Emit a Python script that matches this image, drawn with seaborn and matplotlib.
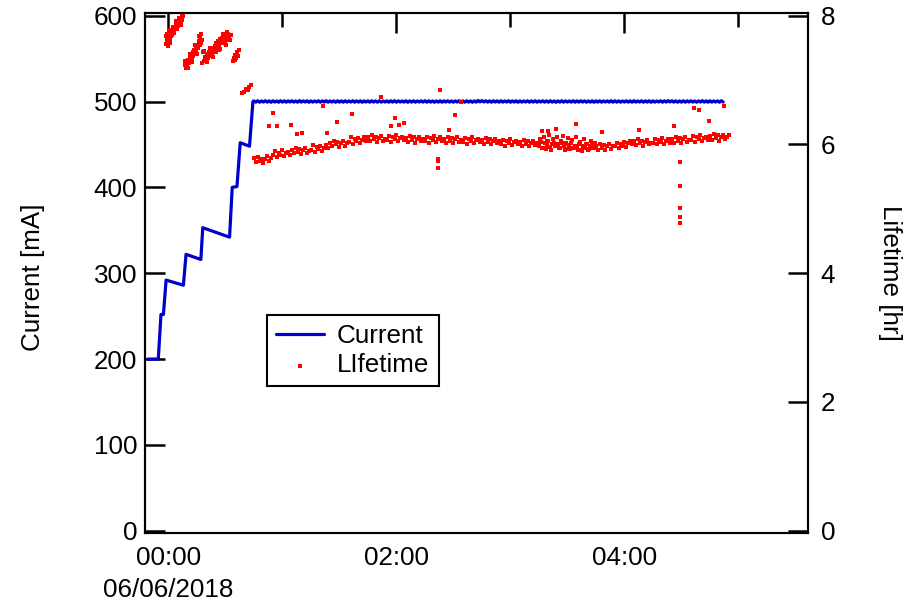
import numpy as np
import pandas as pd
import matplotlib
matplotlib.use("Agg")
import matplotlib.pyplot as plt
from matplotlib.ticker import FixedLocator, FixedFormatter
import seaborn as sns

# ---------------------------------------------------------------------------
# Beam current: injection ramp (minutes after 00:00 on 06/06/2018, mA)
ramp_minutes = [-10.7, -5.3, -3.9, -2.6, -1.2, 7.9, 9.3, 17.1, 18.1,
                32.2, 33.6, 36.1, 37.8, 42.7, 44.5]
ramp_current = [200, 200, 252, 252, 292, 286, 322, 316, 353,
                342, 400, 401, 452, 448, 500]

# Beam current in top-up mode, logged once per minute from minute 45
plateau_start = 45
plateau_current = [
    500.8, 499.3, 500.9, 499.2, 500.7, 499.4, 501.0, 499.3, 500.8, 499.1, 500.9, 499.4, 500.7, 499.2, 501.0, 499.3,
    500.9, 499.2, 500.8, 499.4, 500.9, 499.3, 500.7, 499.2, 501.1, 499.3, 500.8, 499.4, 500.9, 499.1, 500.8, 499.3,
    500.7, 499.4, 500.9, 499.2, 500.8, 499.3, 501.0, 499.2, 500.7, 499.4, 500.8, 499.1, 500.9, 499.3, 500.8, 499.2,
    500.9, 499.3, 500.7, 499.4, 501.0, 499.2, 500.8, 499.3, 500.9, 499.1, 500.7, 499.4, 500.8, 499.2, 501.0, 499.3,
    500.8, 499.2, 500.9, 499.3, 500.7, 499.4, 500.8, 499.2, 500.9, 499.3, 501.0, 499.2, 500.8, 499.4, 500.7, 499.3,
    500.9, 499.1, 500.8, 499.3, 500.9, 499.2, 500.7, 499.4, 500.8, 499.3, 501.0, 499.2, 500.9, 499.3, 500.8, 499.1,
    500.7, 499.3, 500.9, 499.2, 500.8, 499.4, 500.9, 499.3, 500.7, 499.2, 500.8, 499.4, 501.0, 499.3, 500.8, 499.2,
    500.9, 499.3, 500.7, 499.1, 500.8, 499.3, 501.2, 499.6, 501.1, 499.5, 500.9, 499.3, 500.8, 499.2, 500.9, 499.4,
    500.8, 499.2, 500.9, 499.3, 500.7, 499.4, 501.0, 499.2, 500.8, 499.3, 500.9, 499.1, 500.8, 499.3, 500.7, 499.4,
    500.9, 499.2, 500.8, 499.3, 501.0, 499.2, 500.7, 499.4, 500.9, 499.3, 500.8, 499.2, 500.9, 499.3, 500.7, 499.1,
    500.8, 499.3, 500.9, 499.2, 500.8, 499.4, 500.7, 499.3, 501.0, 499.2, 500.8, 499.3, 500.9, 499.4, 500.8, 499.2,
    500.7, 499.3, 500.9, 499.1, 500.8, 499.3, 500.9, 499.2, 500.7, 499.4, 500.8, 499.3, 501.0, 499.2, 500.9, 499.3,
    500.8, 499.2, 500.7, 499.4, 500.9, 499.3, 500.8, 499.2, 501.0, 499.3, 500.7, 499.4, 500.9, 499.2, 500.8, 499.3,
    500.9, 499.1, 500.8, 499.3, 500.7, 499.4, 500.9, 499.2, 500.8, 499.3, 501.1, 499.5, 500.9, 499.3, 500.8, 499.2,
    500.7, 499.3, 500.9, 499.2, 500.8, 499.4, 500.9, 499.3, 500.7, 499.2, 500.8, 499.4, 501.0, 499.3, 500.8, 499.2,
    500.9, 499.3, 500.7, 499.4, 500.8, 499.2, 500.9, 499.3,
]

# ---------------------------------------------------------------------------
# Beam lifetime during the injection ramp (minutes, hours)
ramp_life_minutes = [
    -1.2, -0.9, -0.6, -0.3, 0.0, 0.3, 0.6, 0.9, 1.2, 1.5, 1.8, 2.1, 2.4, 2.7, 3.0,
    3.4, 3.8, 4.2, 4.6, 5.0, 5.4, 5.8, 6.2, 6.6, 7.0, 7.4, 7.8, -0.5, 0.2, 1.0,
    -1.0, -0.4, 0.4, 1.1, 1.7, 2.3, 3.2, 4.0, 4.8, 5.6, 6.4, 7.2,
    8.8, 9.2, 9.6, 10.0, 10.4, 10.8, 11.2, 11.6, 12.0, 12.4, 12.8, 13.2, 13.6, 14.0,
    14.4, 14.8, 15.2, 15.6, 16.0, 16.4, 16.8, 17.2, 17.6,
    9.0, 10.2, 11.4, 12.6, 13.8, 15.0, 16.2, 17.0,
    17.8, 18.3, 18.8, 19.3, 19.8, 20.3, 20.8, 21.3, 21.8, 22.3, 22.8, 23.3, 23.8, 24.3,
    24.8, 25.3, 25.8, 26.3, 26.8, 27.3, 27.8, 28.3, 28.8, 29.3, 29.8, 30.3, 30.8, 31.3,
    31.8, 32.3, 32.8, 25.0, 26.0, 27.0, 28.0, 29.0, 30.0, 31.0,
    19.0, 20.5, 22.0, 23.5, 26.5, 28.5, 30.5, 32.0,
    33.8, 34.3, 34.8, 35.3, 35.8, 36.3, 36.8, 37.3,
    38.6, 39.8, 41.0, 41.8, 42.5, 43.3,
]
ramp_lifetime = [
    7.56, 7.62, 7.58, 7.66, 7.61, 7.64, 7.70, 7.66, 7.72, 7.69, 7.76, 7.73, 7.78, 7.75, 7.82,
    7.79, 7.85, 7.81, 7.88, 7.84, 7.91, 7.87, 7.94, 7.90, 7.97, 7.93, 7.99, 7.72, 7.78, 7.57,
    7.68, 7.53, 7.74, 7.62, 7.70, 7.82, 7.73, 7.92, 7.80, 7.96, 7.86, 8.01,
    7.24, 7.19, 7.27, 7.22, 7.31, 7.26, 7.35, 7.30, 7.39, 7.33, 7.43, 7.37, 7.47, 7.41,
    7.51, 7.46, 7.55, 7.50, 7.60, 7.55, 7.66, 7.72, 7.63,
    7.30, 7.18, 7.40, 7.28, 7.55, 7.40, 7.68, 7.58,
    7.27, 7.43, 7.30, 7.36, 7.32, 7.40, 7.34, 7.44, 7.38, 7.46, 7.41, 7.50, 7.44, 7.53,
    7.47, 7.57, 7.50, 7.61, 7.54, 7.64, 7.57, 7.60, 7.67, 7.62, 7.70, 7.64, 7.66, 7.72,
    7.68, 7.63, 7.70, 7.44, 7.55, 7.49, 7.66, 7.58, 7.60, 7.74,
    7.45, 7.28, 7.50, 7.36, 7.46, 7.72, 7.55, 7.62,
    7.29, 7.35, 7.31, 7.39, 7.34, 7.43, 7.38, 7.47,
    6.80, 6.82, 6.86, 6.85, 6.90, 6.92,
]

# Beam lifetime at 500 mA, logged once per minute from minute 45
band_start = 45
band_lifetime = [
    5.79, 5.72, 5.80, 5.74, 5.78, 5.71, 5.77, 5.82, 5.75, 5.79,
    5.83, 5.90, 5.80, 5.87, 5.84, 5.91, 5.82, 5.86, 5.89, 5.84,
    5.92, 5.86, 5.95, 5.89, 5.93, 5.85, 5.91, 5.94, 5.87, 5.90,
    5.92, 5.99, 5.89, 5.96, 5.93, 5.98, 5.90, 5.95, 5.99, 5.94,
    6.03, 5.97, 6.06, 6.00, 6.04, 5.96, 6.02, 6.05, 5.98, 6.03,
    6.04, 6.11, 6.01, 6.08, 6.05, 6.10, 6.02, 6.07, 6.12, 6.05,
    6.11, 6.05, 6.14, 6.08, 6.12, 6.04, 6.10, 6.13, 6.06, 6.09,
    6.07, 6.13, 6.04, 6.11, 6.08, 6.14, 6.05, 6.10, 6.12, 6.07,
    6.10, 6.04, 6.13, 6.07, 6.11, 6.03, 6.09, 6.12, 6.05, 6.08,
    6.06, 6.12, 6.03, 6.10, 6.07, 6.13, 6.04, 6.09, 6.11, 6.06,
    6.09, 6.03, 6.12, 6.06, 6.10, 6.02, 6.08, 6.11, 6.04, 6.07,
    6.04, 6.10, 6.01, 6.08, 6.05, 6.11, 6.02, 6.07, 6.09, 6.04,
    6.07, 6.01, 6.10, 6.04, 6.08, 6.00, 6.06, 6.09, 6.02, 6.05,
    6.01, 6.07, 5.98, 6.05, 6.02, 6.08, 5.99, 6.04, 6.06, 6.01,
    6.04, 5.98, 6.07, 6.01, 6.05, 5.97, 6.03, 6.06, 5.99, 6.02,
    5.98, 6.04, 5.95, 6.02, 5.99, 6.05, 5.96, 6.01, 6.03, 5.98,
    6.00, 5.94, 6.03, 5.97, 6.01, 5.93, 5.99, 6.02, 5.95, 5.98,
    5.94, 6.00, 5.91, 5.98, 5.95, 6.01, 5.92, 5.97, 5.99, 5.94,
    5.98, 5.92, 6.01, 5.95, 5.99, 5.91, 5.97, 6.00, 5.93, 5.97,
    5.97, 6.03, 5.94, 6.01, 5.98, 6.04, 5.96, 6.02, 6.05, 6.00,
    6.05, 5.99, 6.08, 6.02, 6.06, 5.98, 6.04, 6.07, 6.00, 6.03,
    6.03, 6.09, 6.00, 6.07, 6.04, 6.10, 6.01, 6.06, 6.08, 6.03,
    6.09, 6.03, 6.12, 6.06, 6.10, 6.02, 6.08, 6.11, 6.04, 6.07,
    6.07, 6.13, 6.04, 6.11, 6.08, 6.14, 6.05, 6.10, 6.12, 6.07,
    6.13, 6.07, 6.16, 6.10, 6.14, 6.06, 6.12, 6.15, 6.08, 6.11,
    6.14,
]

# Extra half-minute readings during the noisy stretch around 03:15-03:45
noisy_minutes = [
    195.5, 196.5, 197.5, 198.5, 199.5, 200.5, 201.5, 202.5, 203.5, 204.5,
    205.5, 206.5, 207.5, 208.5, 209.5, 210.5, 211.5, 212.5, 213.5, 214.5,
    215.5, 216.5, 217.5, 218.5, 219.5, 220.5, 221.5, 222.5, 223.5, 224.5,
]
noisy_lifetime = [
    6.08, 5.95, 6.12, 5.93, 6.05, 6.14, 5.92, 6.09, 5.97, 6.11,
    5.94, 6.06, 6.13, 5.91, 6.02, 6.10, 5.93, 6.07, 5.95, 6.12,
    5.92, 6.04, 5.90, 6.08, 5.96, 6.01, 5.93, 6.06, 5.95, 6.03,
]

# Isolated readings away from the main band
spike_minutes = [
    54.9, 52.7, 57.0, 64.3, 67.5, 70.1, 81.2, 88.6, 83.3, 96.5,
    111.7, 119.2, 116.9, 121.3, 123.9, 142.9, 150.8, 147.7, 153.8,
    141.9, 141.9, 141.9,
    276.4, 279.0, 292.2, 284.3, 266.3, 214.7, 204.1, 196.7, 199.6, 228.4, 247.9,
    269.5, 269.5, 269.5, 269.5, 269.5,
]
spike_lifetime = [
    6.49, 6.29, 6.29, 6.31, 6.17, 6.18, 6.60, 6.35, 6.18, 6.48,
    6.74, 6.41, 6.29, 6.31, 6.34, 6.84, 6.45, 6.22, 6.66,
    5.78, 5.74, 5.64,
    6.57, 6.54, 6.59, 6.37, 6.29, 6.32, 6.24, 6.21, 6.21, 6.20, 6.23,
    5.73, 5.35, 5.02, 4.87, 4.78,
]

# ---------------------------------------------------------------------------
plateau_minutes = np.arange(plateau_start, plateau_start + len(plateau_current))
band_minutes = np.arange(band_start, band_start + len(band_lifetime))

current_df = pd.DataFrame({
    "hours": np.concatenate([ramp_minutes, plateau_minutes]) / 60.0,
    "current": np.concatenate([ramp_current, plateau_current]),
})
lifetime_df = pd.DataFrame({
    "hours": np.concatenate([ramp_life_minutes, band_minutes, noisy_minutes, spike_minutes]) / 60.0,
    "lifetime": np.concatenate([ramp_lifetime, band_lifetime, noisy_lifetime, spike_lifetime]),
})

sns.set_style("white")
plt.rcParams["font.family"] = ["Liberation Sans", "DejaVu Sans"]
plt.rcParams.update({
    "text.color": "black",
    "axes.labelcolor": "black",
    "xtick.color": "black",
    "ytick.color": "black",
    "axes.edgecolor": "black",
})
FS = 18.7
BLUE = "#0000CD"
RED = "#FF0000"

W, H = 914, 603
fig = plt.figure(figsize=(W / 100, H / 100), dpi=100)
ax = fig.add_axes([145 / W, 1 - 533.3 / H, 663 / W, 520 / H])
ax2 = ax.twinx()

sns.lineplot(data=current_df, x="hours", y="current", ax=ax, color=BLUE,
             linewidth=2.3, estimator=None, sort=False, legend=False)
sns.scatterplot(data=lifetime_df, x="hours", y="lifetime", ax=ax2, color=RED,
                marker="s", s=5.5, linewidth=0, legend=False)

ax.set_xlim(-12.3 / 60, 336.6 / 60)
ax.set_ylim(-3.0, 602.8)
ax2.set_ylim(-3.0 / 75, 602.8 / 75)

ax.xaxis.set_major_locator(FixedLocator([0, 2, 4]))
ax.xaxis.set_major_formatter(FixedFormatter(["00:00\n06/06/2018", "02:00", "04:00"]))
ax.xaxis.set_minor_locator(FixedLocator([1, 3, 5]))
ax.yaxis.set_major_locator(FixedLocator([0, 100, 200, 300, 400, 500, 600]))
ax2.yaxis.set_major_locator(FixedLocator([0, 2, 4, 6, 8]))

for a in (ax, ax2):
    a.set_xlabel("")
    a.set_ylabel("")
    for sp in a.spines.values():
        sp.set_visible(True)
        sp.set_color("black")
        sp.set_linewidth(1.5)

ax.tick_params(axis="x", which="major", direction="in", length=14.4, width=1.8,
               labelsize=FS, pad=9.5, top=True, colors="black")
ax.tick_params(axis="x", which="minor", direction="in", length=10, width=1.8,
               top=True, colors="black")
ax.tick_params(axis="y", which="major", direction="in", length=14.4, width=1.8,
               labelsize=FS, pad=5.5, left=True, right=False, colors="black")
ax2.tick_params(axis="y", which="major", direction="in", length=14.4, width=1.8,
                labelsize=FS, pad=9, right=True, left=False, colors="black")
for lab in ax.get_xticklabels():
    lab.set_multialignment("center")
    lab.set_linespacing(1.4)

fig.text(33 / W, 1 - 277 / H, "Current [mA]", rotation=90, ha="center",
         va="center", fontsize=FS)
fig.text(890 / W, 1 - 273 / H, "Lifetime [hr]", rotation=-90, ha="center",
         va="center", fontsize=FS)

handles = [ax.get_lines()[0], ax2.collections[0]]
leg = ax2.legend(handles, ["Current", "LIfetime"], loc="upper left",
                 bbox_to_anchor=(0.184, 0.4196), bbox_transform=ax.transAxes,
                 borderaxespad=0, fontsize=FS, frameon=True, fancybox=False,
                 framealpha=1, edgecolor="black", handlelength=1.85,
                 handletextpad=0.5, borderpad=0.35, labelspacing=0.2,
                 scatterpoints=1)
leg.get_frame().set_linewidth(1.5)

fig.savefig("out.png", dpi=100)
